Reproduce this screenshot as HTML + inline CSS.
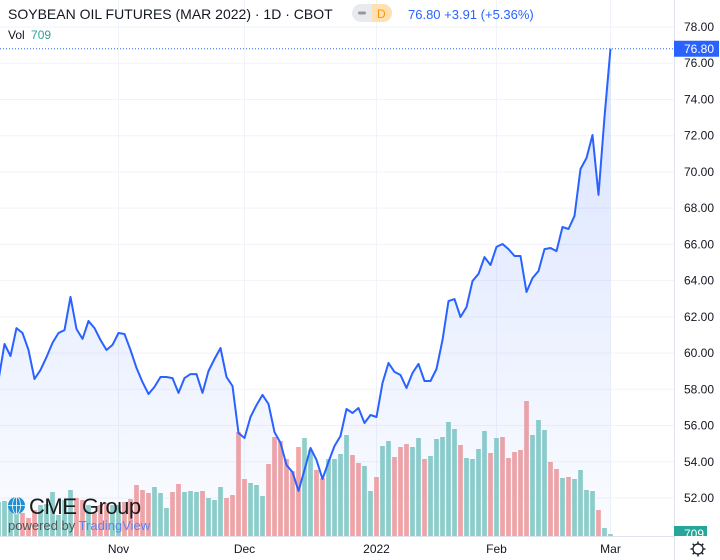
<!DOCTYPE html>
<html><head><meta charset="utf-8"><style>
html,body{margin:0;padding:0;background:#fff;}
body{width:720px;height:560px;overflow:hidden;font-family:"Liberation Sans",sans-serif;}
</style></head><body>
<svg id="chart" width="720" height="560" xmlns="http://www.w3.org/2000/svg" style="display:block">
<defs>
<linearGradient id="areaGrad" x1="0" y1="0" x2="0" y2="1">
<stop offset="0" stop-color="#2962ff" stop-opacity="0.18"/>
<stop offset="1" stop-color="#2962ff" stop-opacity="0.02"/>
</linearGradient>
<clipPath id="plotClip"><rect x="0" y="0" width="674" height="536"/></clipPath>
</defs>
<g id="grid"></g>
<g id="vol" clip-path="url(#plotClip)"></g>
<g id="price" clip-path="url(#plotClip)"></g>
<g id="axes"></g>

<g>
<text x="8" y="19" font-size="14" fill="#131722">SOYBEAN OIL FUTURES (MAR 2022) · 1D · CBOT</text>
<rect x="352" y="4" width="40" height="18" rx="9" fill="#e9eaee"/>
<path d="M372 4 H383 A9 9 0 0 1 383 22 H372 Z" fill="#ffe0b2"/>
<rect x="358" y="11.5" width="8" height="3" rx="1.5" fill="#9598a1"/>
<text x="377" y="18" font-size="12" fill="#ff9800">D</text>
<text x="408" y="19" font-size="13" fill="#2962ff">76.80 +3.91 (+5.36%)</text>
<text x="8" y="39" font-size="12" fill="#131722">Vol <tspan fill="#26a69a" dx="3">709</tspan></text>
</g>

<g>
<circle cx="16.5" cy="505.5" r="8.5" fill="#1f8fd0"/>
<ellipse cx="16.5" cy="505.5" rx="4" ry="8.5" fill="none" stroke="#fff" stroke-width="0.8"/>
<line x1="8" y1="505.5" x2="25" y2="505.5" stroke="#fff" stroke-width="0.8"/>
<line x1="16.5" y1="497" x2="16.5" y2="514" stroke="#fff" stroke-width="0.8"/>
<text x="29" y="514" font-size="22" fill="#1b1b1b" letter-spacing="-0.5">CME Group</text>
<text x="8" y="530" font-size="13" fill="#555">powered by <tspan fill="#5b83f5">TradingView</tspan></text>
</g>
</svg>
<script>
const prices=[58.51,60.50,59.84,61.38,61.11,60.17,58.57,59.07,59.78,60.56,61.11,61.27,63.10,61.33,60.78,61.77,61.38,60.72,60.17,60.45,61.11,61.05,60.17,59.18,58.40,57.74,58.13,58.68,58.68,58.62,57.80,58.62,58.84,58.84,57.80,59.01,59.67,60.28,58.68,58.18,55.59,55.31,56.47,57.13,57.69,57.19,55.64,55.04,53.82,53.43,52.39,53.55,54.76,54.10,53.05,53.99,54.87,55.42,56.91,56.69,56.97,56.14,56.58,56.47,58.35,59.45,58.96,58.79,58.07,58.90,59.40,58.46,58.46,59.12,60.72,62.87,62.98,61.99,62.54,63.98,64.37,65.30,64.86,65.86,66.02,65.74,65.36,65.36,63.37,64.14,64.53,65.74,65.80,65.63,66.96,66.85,67.57,70.16,70.77,72.04,68.73,73.03,76.80];
const volumes=[12070,12425,11360,11715,8165,6390,9230,11005,11360,15620,7455,12780,16330,13490,12780,11005,8165,11005,11715,11005,11005,12070,13135,18105,16330,15265,17395,15265,9940,15620,18460,15620,15975,15620,15975,13490,12780,17395,13490,14555,36920,20235,18815,18105,14200,25560,35145,33725,27335,23075,31595,34790,30530,23430,20590,27335,27335,29110,35855,28755,25915,24850,15975,20945,31950,33725,28045,31595,32660,31595,34790,27335,28400,34435,35145,40470,37985,32305,27690,27335,30885,37275,29465,34790,35145,27690,29820,30530,47925,35855,41180,37630,26270,23785,20590,20945,20235,23430,16330,15975,9230,2840,709];
const volDir="TTTTPPPTTTTTTPPTPPPTTPPPPPTTTPPTTTPTTTPPPPTTTPPPPPPTTPPTTTTPPTTPTTPPPTTPTTTTTPTTTTPTPPPPPTTTPPTPTTTTPTT";
const priceTicks=[78,76,74,72,70,68,66,64,62,60,58,56,54,52];
const monthLabels=["Nov","Dec","2022","Feb","Mar"];
const monthIdx=[20,41,63,83,102];

const NS="http://www.w3.org/2000/svg";
const X0=-1.5, STEP=6, BASE=536;
const xOf=i=>X0+STEP*i;
const yOf=v=>27+(78-v)*18.115;
const volMax=47925, volPx=135;
const hOf=v=>v/volMax*volPx;
function mk(tag,attrs,parent){const e=document.createElementNS(NS,tag);for(const k in attrs)e.setAttribute(k,attrs[k]);parent.appendChild(e);return e;}
const grid=document.getElementById('grid'),vol=document.getElementById('vol'),price=document.getElementById('price'),axes=document.getElementById('axes');

priceTicks.forEach(t=>{
  const y=yOf(t);
  const l=mk('line',{x1:0,x2:674,y1:y,y2:y,stroke:'#f0f3fa','stroke-width':1},grid);
  
  
  const tx=mk('text',{x:684,y:y+4,'font-size':12,fill:'#131722'},axes);
  tx.textContent=t.toFixed(2);
  
  
});
monthIdx.forEach((idx,k)=>{
  const x=xOf(idx);
  const l=mk('line',{x1:x,x2:x,y1:0,y2:536,stroke:'#f0f3fa','stroke-width':1},grid);
  
  
  const tx=mk('text',{x:x,y:553,'font-size':12,fill:'#131722','text-anchor':'middle'},axes);
  tx.textContent=monthLabels[k];
  
  
});

volumes.forEach((v,i)=>{
  const h=hOf(v);
  const r=mk('rect',{x:xOf(i)-2.35,y:BASE-h,width:4.7,height:h,fill:volDir[i]==='T'?'#8fd0c9':'#f4a6a5'},vol);
  
  
});

let d='';prices.forEach((p,i)=>{d+=(i?'L':'M')+xOf(i).toFixed(1)+' '+yOf(p).toFixed(1);});
const last=prices.length-1;
const area=mk('path',{d:d+'L'+xOf(last)+' '+BASE+'L'+xOf(0)+' '+BASE+'Z',fill:'url(#areaGrad)'},price);


const line=mk('path',{d:d,fill:'none',stroke:'#2962ff','stroke-width':2,'stroke-linejoin':'round'},price);



const ly=yOf(prices[last]);
const dl=mk('line',{x1:0,x2:674,y1:ly,y2:ly,stroke:'#2962ff','stroke-width':1,'stroke-dasharray':'1 2'},axes);


mk('line',{x1:674.5,x2:674.5,y1:0,y2:560,stroke:'#e0e3eb','stroke-width':1},axes);
mk('line',{x1:0,x2:674,y1:536.5,y2:536.5,stroke:'#e0e3eb','stroke-width':1},axes);
const pb=mk('rect',{x:674,y:ly-8,width:45,height:16,fill:'#2962ff'},axes);


const pt=mk('text',{x:684,y:ly+4.5,'font-size':12,fill:'#fff'},axes);
pt.textContent=prices[last].toFixed(2);
const vb=mk('rect',{x:674,y:526,width:33,height:10,fill:'#26a69a'},axes);


const vt=mk('text',{x:684,y:538,'font-size':12,fill:'#fff','clip-path':'url(#vbClip)'},axes);
vt.textContent=String(volumes[last]);
const cp=mk('clipPath',{id:'vbClip'},document.querySelector('defs'));
mk('rect',{x:674,y:520,width:46,height:16},cp);
const gear=mk('g',{transform:'translate(698,549)'},axes);


mk('circle',{cx:0,cy:0,r:5,fill:'none',stroke:'#131722','stroke-width':1.2},gear);
for(let a=0;a<8;a++){const r=a*Math.PI/4;mk('line',{x1:5*Math.cos(r),y1:5*Math.sin(r),x2:7.5*Math.cos(r),y2:7.5*Math.sin(r),stroke:'#131722','stroke-width':1.4},gear);}
</script>
</body></html>
